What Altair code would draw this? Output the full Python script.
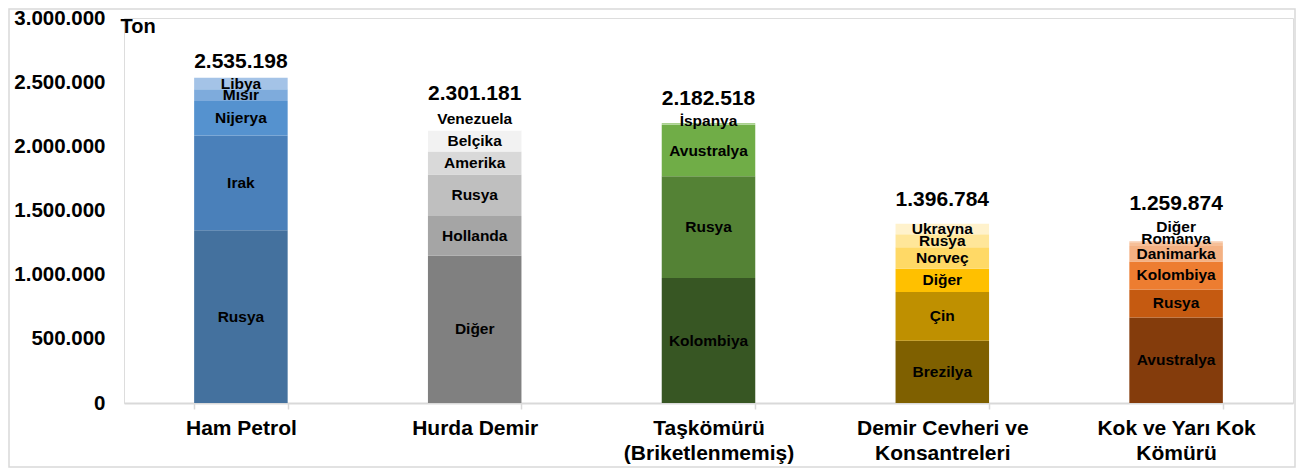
import altair as alt
import pandas as pd

# ---------------- data ----------------
categories = ["Ham Petrol", "Hurda Demir", "Taşkömürü\n(Briketlenmemiş)",
              "Demir Cevheri ve\nKonsantreleri", "Kok ve Yarı Kok\nKömürü"]
totals = [2535198, 2301181, 2182518, 1396784, 1259874]

ham_countries = ["Rusya", "Irak", "Nijerya", "Mısır", "Libya"]
ham_values = [1347000, 737000, 270000, 90000, 91198]

hurda_countries = ["Diğer", "Hollanda", "Rusya", "Amerika", "Belçika", "Venezuela"]
hurda_values = [1147000, 311000, 322000, 180000, 164000, 177181]

tas_countries = ["Kolombiya", "Rusya", "Avustralya", "İspanya"]
tas_values = [974000, 792000, 403000, 13518]

demir_countries = ["Brezilya", "Çin", "Diğer", "Norveç", "Rusya", "Ukrayna"]
demir_values = [486000, 378000, 183000, 167000, 100000, 82784]

kok_countries = ["Avustralya", "Rusya", "Kolombiya", "Danimarka", "Romanya", "Diğer"]
kok_values = [666000, 219000, 218000, 120000, 30000, 6874]

y_ticks = [0, 500000, 1000000, 1500000, 2000000, 2500000, 3000000]

# ---------------- styles ----------------
ham_colors = ["#44719e", "#4a80ba", "#5592cf", "#7eabdc", "#a4c3e7"]
hurda_colors = ["#808080", "#a5a5a5", "#bfbfbf", "#d9d9d9", "#f2f2f2", "#ffffff"]
tas_colors = ["#375623", "#548235", "#70ad47", "#a9d18e"]
demir_colors = ["#7f6000", "#bf9000", "#ffc000", "#ffd966", "#ffe699", "#fff2cc"]
kok_colors = ["#843c0c", "#c55a11", "#ed7d31", "#f4b183", "#f6bf98", "#f8cbad"]

FONT = "Liberation Sans"

groups = [
    (ham_countries, ham_values, ham_colors),
    (hurda_countries, hurda_values, hurda_colors),
    (tas_countries, tas_values, tas_colors),
    (demir_countries, demir_values, demir_colors),
    (kok_countries, kok_values, kok_colors),
]

rows, keys, colors = [], [], []
for ci, (cs, vs, cols) in enumerate(groups):
    for oi, (c, v, col) in enumerate(zip(cs, vs, cols)):
        k = f"{ci}|{c}"
        rows.append({"category": categories[ci], "country": c, "value": v,
                     "order": oi, "key": k})
        keys.append(k)
        colors.append(col)
df = pd.DataFrame(rows)

df_tot = pd.DataFrame({
    "category": categories,
    "total": totals,
    "label": [f"{t:,}".replace(",", ".") for t in totals],
    "idx": list(range(len(categories))),
})

# label nudges (pixels) for crowded labels
seg_nudge = {"4|Romanya": -5, "4|Diğer": -15, "2|İspanya": -3}
total_nudge = [16, 14, 24, 24, 37]

W, H = 1169, 385

x_axis = alt.Axis(
    title=None, labelAngle=0, labelFont=FONT, labelFontSize=21,
    labelFontWeight="bold", labelColor="#000000", labelLimit=0,
    labelLineHeight=25, labelExpr="split(datum.label, '\\n')",
    labelPadding=8, domainColor="#d9d9d9", domainWidth=2,
    tickColor="#d9d9d9", tickWidth=1.5, tickSize=6, tickBand="extent",
    grid=False,
)
y_axis = alt.Axis(
    title="Ton", titleAngle=0, titleAlign="left", titleBaseline="middle",
    titleX=-4, titleY=8, titleFont=FONT, titleFontSize=20,
    titleFontWeight="bold", titleColor="#000000",
    values=y_ticks, labelFont=FONT, labelFontSize=20.5,
    labelFontWeight="bold", labelColor="#000000", labelPadding=19,
    labelExpr="replace(format(datum.value, ','), regexp(',', 'g'), '.')",
    domain=False, ticks=False, grid=False,
)

x_scale = alt.Scale(paddingInner=0.6, paddingOuter=0.3)
y_scale = alt.Scale(domain=[0, 3000000], nice=False, zero=True)

x_enc = alt.X("category:N", sort=categories, scale=x_scale, axis=x_axis)

base = alt.Chart(df)

bars = base.mark_bar(stroke=None).encode(
    x=x_enc,
    y=alt.Y("value:Q", stack="zero", scale=y_scale, axis=y_axis),
    color=alt.Color("key:N", scale=alt.Scale(domain=keys, range=colors), legend=None),
    order=alt.Order("order:Q", sort="ascending"),
)

stacked = base.transform_stack(
    stack="value", as_=["y0", "y1"], groupby=["category"],
    sort=[alt.SortField("order", order="ascending")],
).transform_calculate(mid="(datum.y0 + datum.y1) / 2")

nudge_keys = list(seg_nudge.keys())
excl = "indexof([" + ",".join(f"'{k}'" for k in nudge_keys) + "], datum.key) < 0"

text_props = dict(font=FONT, fontSize=15.5, fontWeight="bold", color="#000000",
                  baseline="middle", align="center")

seg_main = stacked.transform_filter(excl).mark_text(**text_props).encode(
    x=x_enc, y=alt.Y("mid:Q", scale=y_scale), text="country:N")

seg_layers = []
for k, dy in seg_nudge.items():
    seg_layers.append(
        stacked.transform_filter(f"datum.key == '{k}'")
        .mark_text(dy=dy, **text_props)
        .encode(x=x_enc, y=alt.Y("mid:Q", scale=y_scale), text="country:N")
    )

tot_layers = []
for i, off in enumerate(total_nudge):
    tot_layers.append(
        alt.Chart(df_tot).transform_filter(f"datum.idx == {i}")
        .mark_text(font=FONT, fontSize=21, fontWeight="bold", color="#000000",
                   baseline="middle", align="center", dy=-off)
        .encode(x=x_enc, y=alt.Y("total:Q", scale=y_scale), text="label:N")
    )

frame = alt.Chart(pd.DataFrame({"a": [0]})).mark_rect(
    fill=None, stroke="#d9d9d9", strokeWidth=1.5
).encode(
    x=alt.value(-115), x2=alt.value(W + 2),
    y=alt.value(-9), y2=alt.value(H + 64),
)

chart = alt.layer(frame, bars, seg_main, *seg_layers, *tot_layers).properties(
    width=W, height=H,
    autosize=alt.AutoSizeParams(type="none"),
    padding={"left": 116, "top": 10, "right": 3, "bottom": 66},
).configure_view(stroke=None).configure(background="#ffffff")

chart.save("out.html", embed_options={"renderer": "svg", "actions": False})
